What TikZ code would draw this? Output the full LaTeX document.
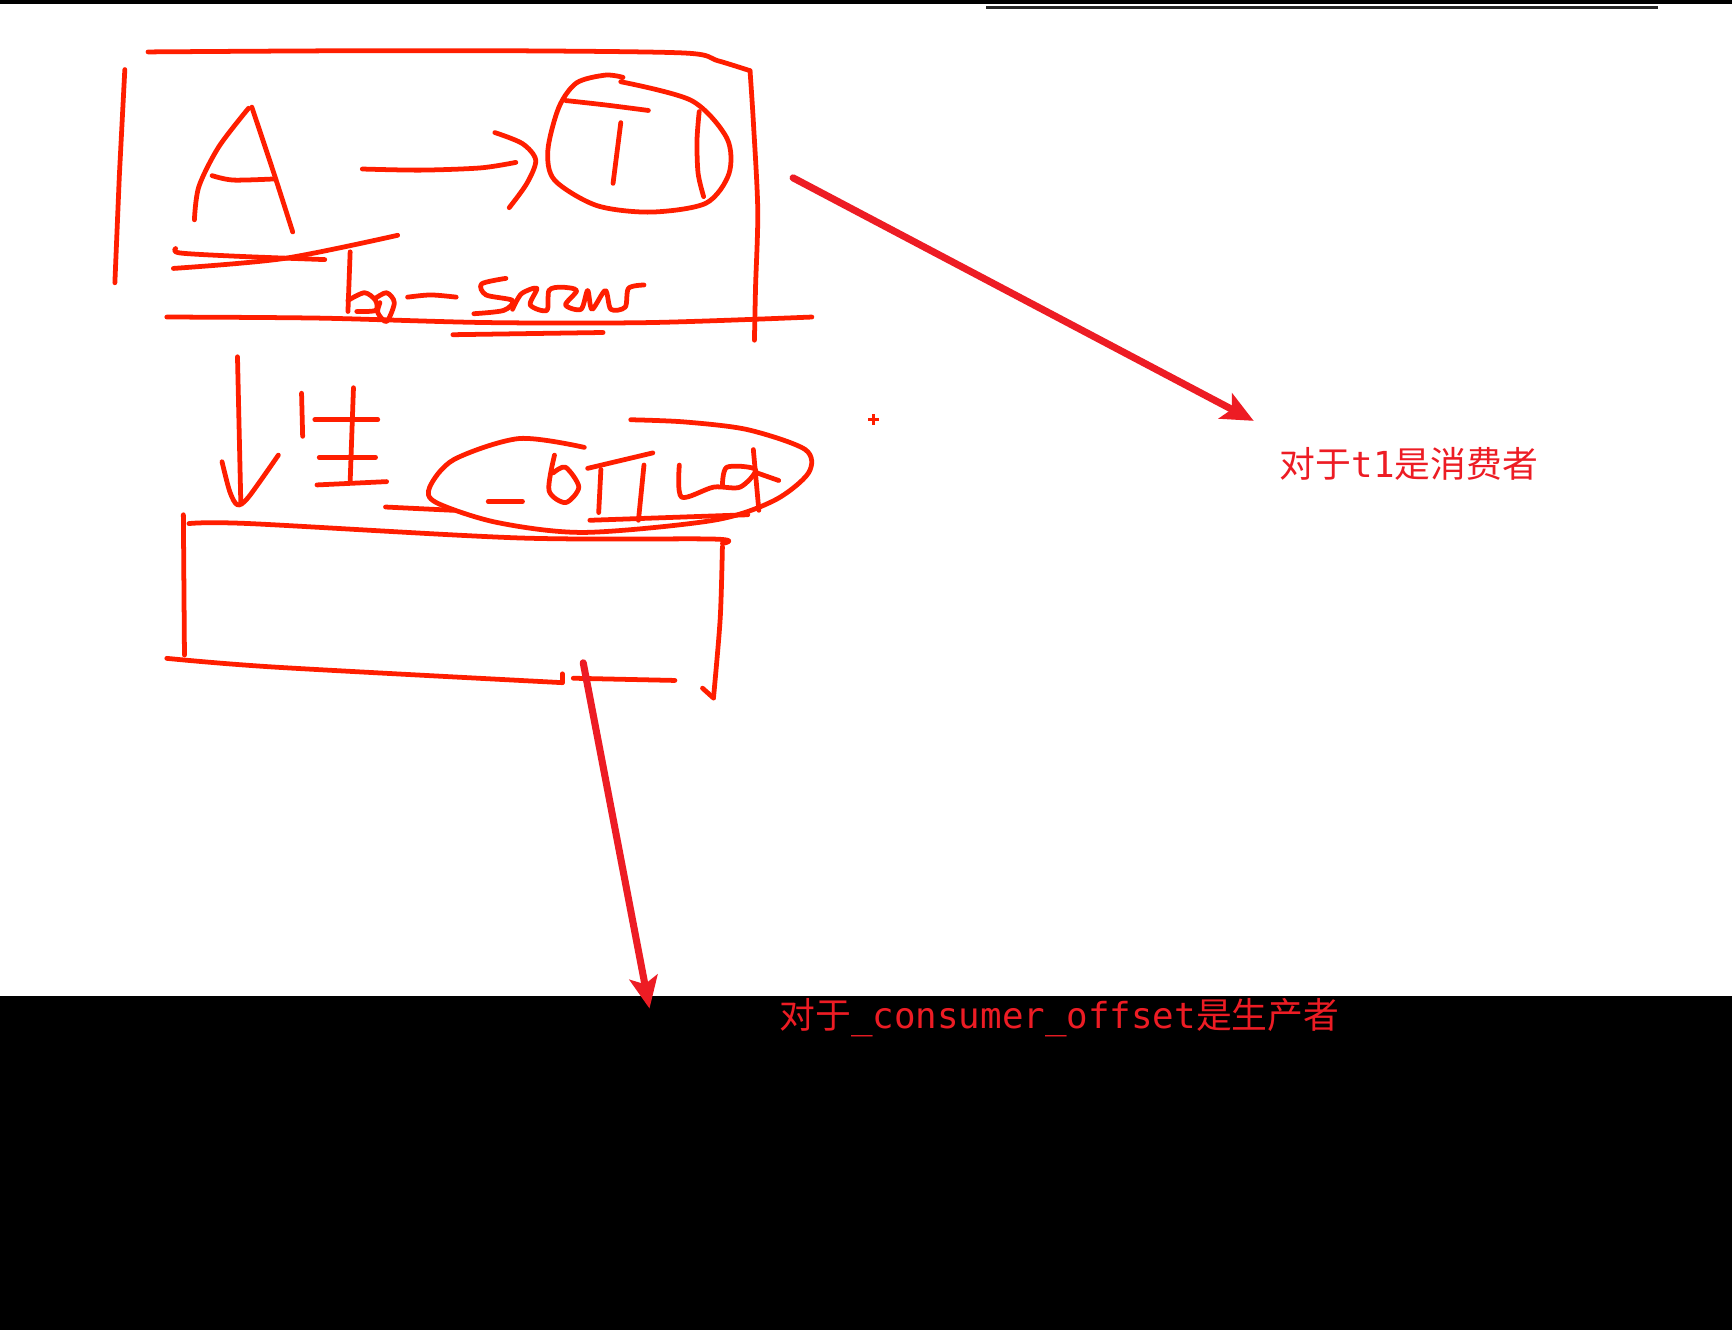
\documentclass[tikz,border=0pt]{standalone}
\usepackage{fontspec}
\newfontfamily\cjkfont{Noto Sans CJK SC}
\setmonofont{DejaVu Sans Mono}
\usetikzlibrary{arrows.meta}
\definecolor{penred}{RGB}{255,30,0}
\definecolor{markred}{RGB}{237,28,36}
\tikzset{
  pen/.style={penred, line width=1.35pt, line cap=round, line join=round},
  marker/.style={markred, line width=2pt, line cap=round,
    -{Stealth[length=9pt,width=8pt,inset=2pt]}},
  note/.style={text=markred, font=\cjkfont\fontsize{10.15}{12}\selectfont,
    inner sep=0pt, anchor=base west}
}
\begin{document}
\begin{tikzpicture}[x=0.011cm, y=-0.011cm]
        \useasboundingbox (0,0) rectangle (1568,1204);
        \fill[white] (0,0) rectangle (1568,1204);

        % black bands of the screenshot
        \fill[black] (0,0) rectangle (1568,4);
        \draw[black!85, line width=0.9pt] (893,6.5) -- (1501,6.5);
        \fill[black] (0,902) rectangle (1568,1204);

        % upper box
        \draw[pen] plot[smooth] coordinates {(134,47) (300,46) (470,46) (620,48) (650,55) (679,64)};
        \draw[pen] plot[smooth] coordinates {(679,64) (682,110) (686,190) (684,260) (683,308)};
        \draw[pen] (113,63) -- (108,160) -- (104,256);
        \draw[pen] plot[smooth] coordinates {(151,287) (290,288) (440,292) (589,292) (735,287)};
        \draw[pen] (410,303) -- (546,301);

        % A
        \draw[pen] plot[smooth] coordinates {(225,98) (198,133) (180,169) (176,199)};
        \draw[pen] plot[smooth] coordinates {(228,97) (248,157) (265,210)};
        \draw[pen] plot[smooth] coordinates {(192,159) (211,163) (248,162)};
        \draw[pen] plot[smooth] coordinates {(159,225) (163,229) (215,232) (294,235)};
        \draw[pen] plot[smooth] coordinates {(157,243) (257,234) (360,213)};

        % A -> T1
        \draw[pen] plot[smooth] coordinates {(328,153) (381,154) (435,152) (467,147)};
        \draw[pen] plot[smooth] coordinates {(448,120) (473,130) (485,145) (477,166) (461,188)};
        \draw[pen] plot[smooth] coordinates {(562,74) (626,91) (658,125) (660,157) (639,184) (589,192)
          (540,186) (502,163) (496,136) (506,97) (522,75) (548,68) (564,70)};
        \draw[pen] plot[smooth] coordinates {(512,91) (548,95) (587,100)};
        \draw[pen] (562,111) -- (555,166);
        \draw[pen] plot[smooth] coordinates {(633,101) (631,127) (632,157) (637,178)};

        % bo-server
        \draw[pen] (317,228) -- (315,282);
        \draw[pen] plot[smooth] coordinates {(315,272) (330,265) (340,272) (340,281) (323,282)};
        \draw[pen] plot[smooth] coordinates {(340,270) (350,265) (357,274) (350,291) (342,283) (344,274)};
        \draw[pen] plot[smooth] coordinates {(369,269) (390,267) (413,269)};
        \draw[pen] plot[smooth] coordinates {(458,252) (436,257) (440,267) (464,272) (456,281) (429,284)};
        \draw[pen] plot[smooth] coordinates {(464,280) (472,266) (486,261) (480,276) (495,281) (497,263)
          (508,260) (522,263) (512,276) (526,280) (532,263) (536,280) (548,263) (553,280) (566,278)
          (569,261) (583,258)};

        % down arrow and 生
        \draw[pen] (215,323) -- (218,455);
        \draw[pen] plot[smooth] coordinates {(201,418) (208,445) (215,457) (225,450) (252,412)};
        \draw[pen] (273,356) -- (274,395);
        \draw[pen] (320,351) -- (317,436);
        \draw[pen] (285,380) -- (342,380);
        \draw[pen] (289,414) -- (340,414);
        \draw[pen] (287,439) -- (350,436);

        % _offset in its loop
        \draw[pen] plot[smooth] coordinates {(529,405) (470,397) (411,416) (389,441) (395,455) (450,473)
          (529,482) (646,471) (701,453) (732,428) (729,407) (677,389) (620,382) (571,380)};
        \draw[pen] (349,459) -- (411,462);
        \draw[pen] (534,471) -- (677,466);
        \draw[pen] (442,454) -- (473,454);
        \draw[pen] plot[smooth] coordinates {(502,412) (497,444) (512,455) (524,441) (512,423) (501,428)};
        \draw[pen] (544,425) -- (542,464);
        \draw[pen] (532,424) -- (591,410);
        \draw[pen] (583,421) -- (578,471);
        \draw[pen] plot[smooth] coordinates {(615,421) (617,450) (646,441) (670,441) (684,425) (658,423) (654,441)};
        \draw[pen] (682,407) -- (687,462);
        \draw[pen] (685,428) -- (705,435);

        % lower box
        \draw[pen] (166,466) -- (167,593);
        \draw[pen] plot[smooth] coordinates {(171,474) (226,474) (470,487) (646,488) (654,492)};
        \draw[pen] plot[smooth] coordinates {(654,495) (652,560) (646,631)};
        \draw[pen] (636,623) -- (646,632);
        \draw[pen] plot[smooth] coordinates {(151,596) (250,604) (509,618)};
        \draw[pen] (509,610) -- (509,618);
        \draw[pen] (519,614) -- (611,616);

        % cursor
        \draw[penred, line width=0.8pt] (786,380) -- (796,380) (791,375) -- (791,385);

        % notes
        \node[note] (consumer) at (1158,432) {对于\texttt{t1}是消费者};
        \node[note] (producer) at (705,931) {对于\texttt{\_consumer\_offset}是生产者};
        \coordinate (t1end) at (718,161);
        \coordinate (consumertip) at (1135,381);
        \coordinate (boxend) at (528,600);
        \coordinate (producertip) at (588,913);
        \draw[marker] (t1end) -- (consumertip);
        \draw[marker] (boxend) -- (producertip);
\end{tikzpicture}
\end{document}
